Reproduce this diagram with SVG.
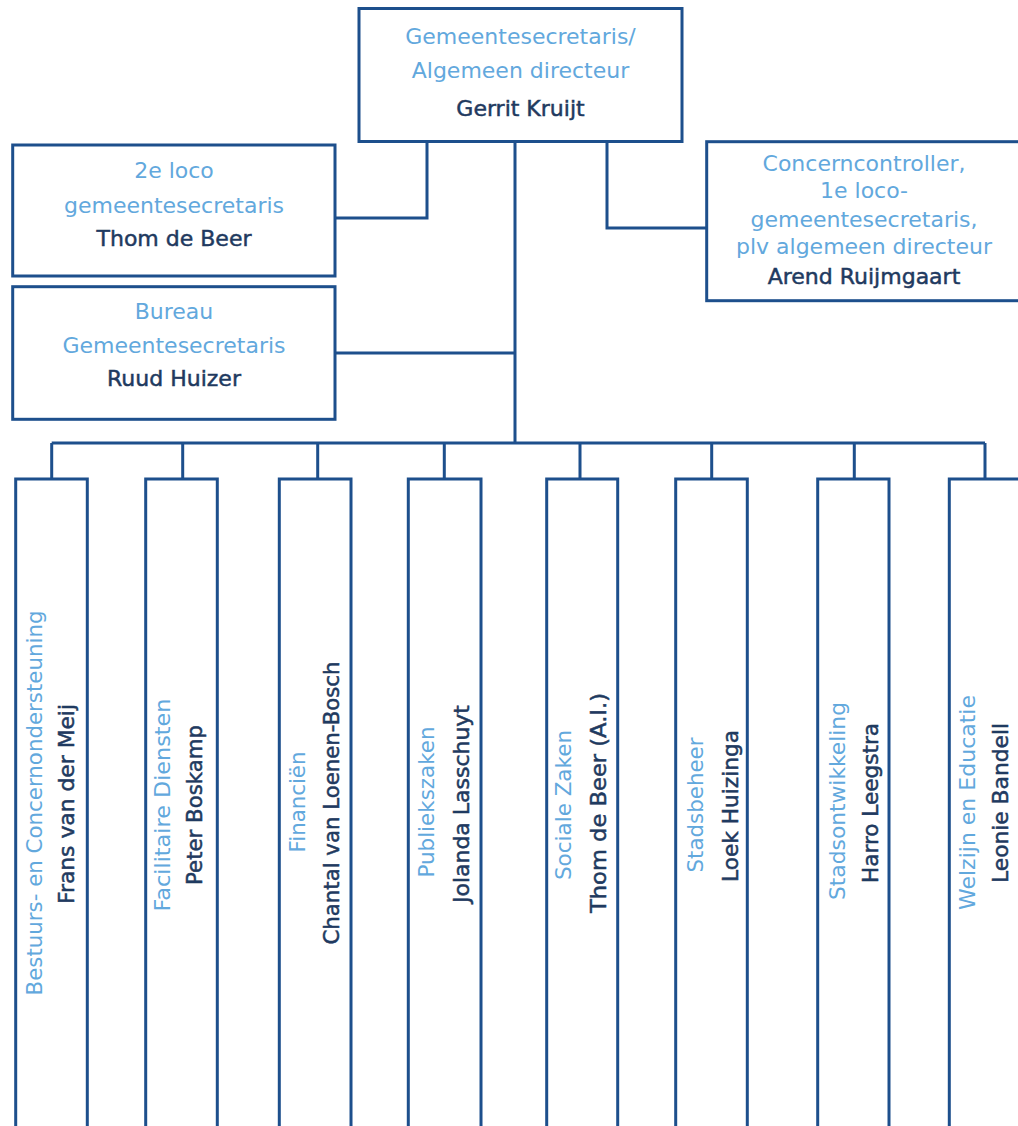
<svg xmlns="http://www.w3.org/2000/svg" width="1018" height="1126" viewBox="0 0 1018 1126">
<style>
.box{fill:#fff;stroke:#1d4f8c;stroke-width:3}
.con{fill:none;stroke:#1d4f8c;stroke-width:3}
.t{font-family:"DejaVu Sans",Verdana,sans-serif;font-size:22px;text-anchor:middle}
.v{font-family:"DejaVu Sans",Verdana,sans-serif;font-size:21px;text-anchor:middle}
.lt{fill:#62a8dd}
.dk{fill:#1f3a60;stroke:#1f3a60;stroke-width:0.5}
</style>
<rect width="1018" height="1126" fill="#fff"/>
<g id="connectors">
<path class="con" d="M515 141V443M51.7 443H985M427 141V218H335M335 353H515M607 141V228H707"/>
<path class="con" d="M51.7 443V479M182.7 443V479M317.7 443V479M444.3 443V479M580 443V479M711.7 443V479M854.3 443V479M985 443V479"/>
</g>
<g id="gemeentesecretaris">
<rect class="box" x="359" y="8.5" width="323" height="133"/>
<text class="t lt" x="520.5" y="44">Gemeentesecretaris/</text>
<text class="t lt" x="520.5" y="78">Algemeen directeur</text>
<text class="t dk" x="520.5" y="116">Gerrit Kruijt</text>
</g>
<g id="loco2">
<rect class="box" x="12.7" y="145" width="322.3" height="131"/>
<text class="t lt" x="174" y="178">2e loco</text>
<text class="t lt" x="174" y="212.5">gemeentesecretaris</text>
<text class="t dk" x="174" y="246">Thom de Beer</text>
</g>
<g id="bureau">
<rect class="box" x="12.7" y="286.7" width="322.3" height="132.6"/>
<text class="t lt" x="174" y="319">Bureau</text>
<text class="t lt" x="174" y="353">Gemeentesecretaris</text>
<text class="t dk" x="174" y="386">Ruud Huizer</text>
</g>
<g id="concerncontroller">
<rect class="box" x="706.7" y="141.7" width="316" height="159"/>
<text class="t lt" x="864" y="170.5">Concerncontroller,</text>
<text class="t lt" x="864" y="198">1e loco-</text>
<text class="t lt" x="864" y="226.5">gemeentesecretaris,</text>
<text class="t lt" x="864" y="254">plv algemeen directeur</text>
<text class="t dk" x="864" y="284">Arend Ruijmgaart</text>
</g>
<g id="bestuurs">
<rect class="box" x="15.7" y="479" width="71.6" height="670"/>
<text class="v lt" transform="translate(41.5,803) rotate(-90)" textLength="385" lengthAdjust="spacingAndGlyphs">Bestuurs- en Concernondersteuning</text>
<text class="v dk" transform="translate(74,804) rotate(-90)" textLength="200" lengthAdjust="spacingAndGlyphs">Frans van der Meij</text>
</g>
<g id="facilitaire">
<rect class="box" x="145.7" y="479" width="71.6" height="670"/>
<text class="v lt" transform="translate(170,805) rotate(-90)" textLength="213" lengthAdjust="spacingAndGlyphs">Facilitaire Diensten</text>
<text class="v dk" transform="translate(202,805) rotate(-90)" textLength="160" lengthAdjust="spacingAndGlyphs">Peter Boskamp</text>
</g>
<g id="financien">
<rect class="box" x="279.3" y="479" width="71.7" height="670"/>
<text class="v lt" transform="translate(305,802) rotate(-90)" textLength="101" lengthAdjust="spacingAndGlyphs">Financiën</text>
<text class="v dk" transform="translate(339,803) rotate(-90)" textLength="283" lengthAdjust="spacingAndGlyphs">Chantal van Loenen-Bosch</text>
</g>
<g id="publiekszaken">
<rect class="box" x="408.3" y="479" width="72.7" height="670"/>
<text class="v lt" transform="translate(434,802) rotate(-90)" textLength="151" lengthAdjust="spacingAndGlyphs">Publiekszaken</text>
<text class="v dk" transform="translate(469,804) rotate(-90)" textLength="198" lengthAdjust="spacingAndGlyphs">Jolanda Lasschuyt</text>
</g>
<g id="sociale-zaken">
<rect class="box" x="546.7" y="479" width="71" height="670"/>
<text class="v lt" transform="translate(571,805) rotate(-90)" textLength="150" lengthAdjust="spacingAndGlyphs">Sociale Zaken</text>
<text class="v dk" transform="translate(606,803) rotate(-90)" textLength="220" lengthAdjust="spacingAndGlyphs">Thom de Beer (A.I.)</text>
</g>
<g id="stadsbeheer">
<rect class="box" x="675.7" y="479" width="71.6" height="670"/>
<text class="v lt" transform="translate(703,805) rotate(-90)" textLength="135" lengthAdjust="spacingAndGlyphs">Stadsbeheer</text>
<text class="v dk" transform="translate(738,806) rotate(-90)" textLength="152" lengthAdjust="spacingAndGlyphs">Loek Huizinga</text>
</g>
<g id="stadsontwikkeling">
<rect class="box" x="817.7" y="479" width="71.3" height="670"/>
<text class="v lt" transform="translate(845,801) rotate(-90)" textLength="198" lengthAdjust="spacingAndGlyphs">Stadsontwikkeling</text>
<text class="v dk" transform="translate(878,803) rotate(-90)" textLength="160" lengthAdjust="spacingAndGlyphs">Harro Leegstra</text>
</g>
<g id="welzijn">
<rect class="box" x="949.3" y="479" width="72" height="670"/>
<text class="v lt" transform="translate(975,802.5) rotate(-90)" textLength="215" lengthAdjust="spacingAndGlyphs">Welzijn en Educatie</text>
<text class="v dk" transform="translate(1008,803) rotate(-90)" textLength="160" lengthAdjust="spacingAndGlyphs">Leonie Bandell</text>
</g>
</svg>
